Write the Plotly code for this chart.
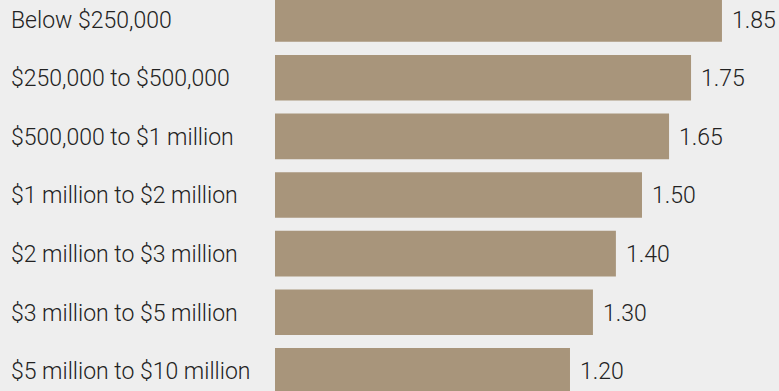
import plotly.graph_objs as go

categories = ['Below $250,000', '$250,000 to $500,000', '$500,000 to $1 million',
              '$1 million to $2 million', '$2 million to $3 million',
              '$3 million to $5 million', '$5 million to $10 million']
values = [1.85, 1.722, 1.631, 1.519, 1.411, 1.316, 1.221]
value_labels = ['1.85', '1.75', '1.65', '1.50', '1.40', '1.30', '1.20']
#
BAR_COLOR = '#a8957b'
BG_COLOR = '#eeeeee'
TEXT_COLOR = '#222222'
FONT = 'Roboto'
#
positions = list(range(len(categories)))
#
data = [
    go.Bar(
        x=values,
        y=positions,
        orientation='h',
        marker=dict(color=BAR_COLOR, line=dict(width=0)),
        width=0.778,
        hoverinfo='skip'
    )
]
#
annotations = []
# category labels on the left
for pos, cat in zip(positions, categories):
    annotations.append(dict(
        x=9 / 779, xref='paper', y=pos, yref='y', yshift=-1,
        text=cat, showarrow=False, xanchor='left', yanchor='middle',
        font=dict(family=FONT, size=23, color=TEXT_COLOR, weight=300)
    ))
# value labels just past each bar end
for pos, val, lab in zip(positions, values, value_labels):
    annotations.append(dict(
        x=val, xref='x', y=pos, yref='y', yshift=-1,
        text=lab, showarrow=False, xanchor='left', yanchor='middle', xshift=8,
        font=dict(family=FONT, size=23, color=TEXT_COLOR, weight=300)
    ))
#
layout = go.Layout(
    width=779,
    height=391,
    margin=dict(l=0, r=0, t=0, b=0),
    paper_bgcolor=BG_COLOR,
    plot_bgcolor=BG_COLOR,
    showlegend=False,
    xaxis=dict(
        range=[-275 / 241.6, 504 / 241.6],
        visible=False,
        fixedrange=True
    ),
    yaxis=dict(
        range=[6.343, -0.325],
        visible=False,
        fixedrange=True
    ),
    annotations=annotations
)
fig = go.Figure(data=data, layout=layout)
#
# drop the page's default body margin so the figure sits at the top-left corner
fig.write_html("out.html", config={'displayModeBar': False},
               post_script="document.body.style.margin='0';document.body.style.background='%s';" % BG_COLOR)
